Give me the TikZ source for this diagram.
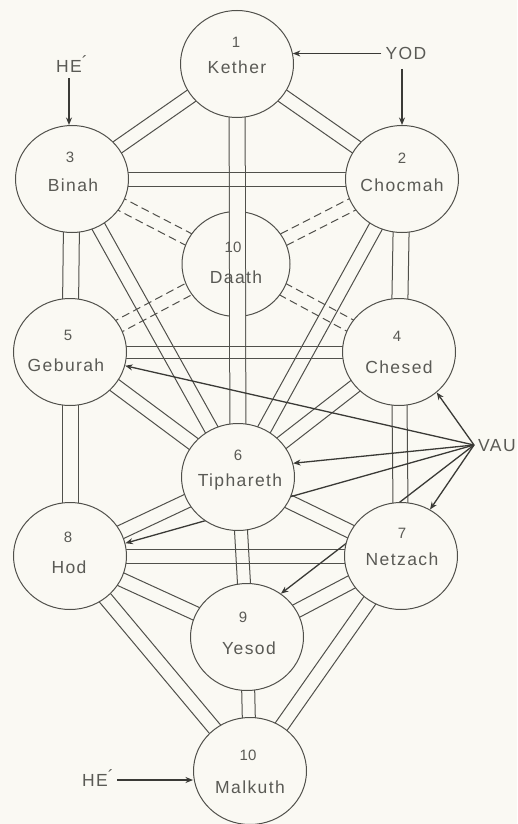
\documentclass[tikz,border=0pt]{standalone}
\usepackage{fontspec}
\setmainfont{Liberation Sans}
\newfontfamily\labfont[LetterSpace=8]{Liberation Sans}
\usetikzlibrary{calc,shapes.geometric,arrows.meta}
\definecolor{bg}{RGB}{250,249,243}
\definecolor{lc}{RGB}{80,80,75}
\definecolor{ac}{RGB}{58,58,54}
\definecolor{tc}{RGB}{90,90,85}
\pgfdeclarelayer{bgl}\pgfdeclarelayer{back}\pgfsetlayers{bgl,back,main}
\newcommand\dbl[3][7pt]{%
  \draw[pathline] ($(#2)!#1!90:(#3)$) -- ($(#3)!#1!-90:(#2)$);
  \draw[pathline] ($(#2)!#1!-90:(#3)$) -- ($(#3)!#1!90:(#2)$);}
\newcommand\dsh[3][6.5pt]{%
  \draw[dashline] ($(#2)!#1!90:(#3)$) -- ($(#3)!#1!-90:(#2)$);
  \draw[dashline] ($(#2)!#1!-90:(#3)$) -- ($(#3)!#1!90:(#2)$);}
\begin{document}
\begin{tikzpicture}[x=1pt,y=-1pt,
  sef/.style={ellipse,draw=lc,fill=bg,line width=1pt,minimum width=113pt,minimum height=107pt,inner sep=0pt},
  pathline/.style={draw=lc,line width=1pt},
  dashline/.style={draw=lc,line width=1pt,dash pattern=on 8pt off 4.5pt},
  arr/.style={draw=ac,line width=1.3pt,-{Stealth[length=7.5pt,width=6pt]}},
  num/.style={text=tc,font=\fontsize{15}{15}\selectfont,inner sep=0pt,text height=10.7pt,text depth=0pt},
  nm/.style={text=tc,font=\labfont\fontsize{17.5}{18}\selectfont,inner sep=0pt,text height=12.5pt,text depth=0pt}]
\begin{pgfonlayer}{bgl}
\fill[bg] (0,0) rectangle (517,824);
\end{pgfonlayer}
\useasboundingbox (0,0) rectangle (517,824);
% sephiroth
\node[sef] (K) at (237,64) {};
\node[sef] (Ch) at (402,179) {};
\node[sef] (B) at (72,179) {};
\node[sef] (Ce) at (399,352) {};
\node[sef] (G) at (70,352) {};
\node[sef] (T) at (238,477) {};
\node[sef] (N) at (401,556) {};
\node[sef] (H) at (70,556) {};
\node[sef] (Y) at (247,637) {};
\node[sef] (M) at (250,771) {};
\coordinate (Dc) at (236,264);
\coordinate (v) at (474,445);
\begin{pgfonlayer}{back}
\dsh{B}{Dc} \dsh{Ch}{Dc} \dsh{G}{Dc} \dsh{Ce}{Dc}
\node[sef,minimum width=108pt,minimum height=105pt] (D) at (Dc) {};
\draw[lc,line width=1pt,double=bg,double distance=15pt] (K.center) -- (T.center);
\dbl{K}{Ch} \dbl{K}{B} \dbl{B}{Ch} \dbl[8pt]{Ch}{Ce} \dbl[8pt]{B}{G}
\dbl{Ch}{T} \dbl{B}{T} \dbl[6pt]{G}{Ce} \dbl{Ce}{T} \dbl{G}{T}
\dbl[7.5pt]{Ce}{N} \dbl[8pt]{G}{H} \dbl{T}{N} \dbl{T}{H} \dbl[6.5pt]{T}{Y}
\dbl{H}{N} \dbl{N}{Y} \dbl{H}{Y} \dbl{N}{M} \dbl{H}{M} \dbl[6.5pt]{Y}{M}
\draw[arr] (v) -- (Ce.-47);
\draw[arr] (v) -- (G.-14);
\draw[arr] (v) -- (T.14);
\draw[arr] (v) -- (H.13);
\draw[arr] (v) -- (N.58);
\draw[arr] (v) -- (Y.52);
\end{pgfonlayer}
% texts
\node[num] (K1) at (236,42) {1}; \node[nm] (K2) at (237,67) {Kether};
\node[num] (Ch1) at (402,158) {2}; \node[nm] (Ch2) at (402,185) {Chocmah};
\node[num] (B1) at (70,157) {3}; \node[nm] (B2) at (73,185) {Binah};
\node[num] (D1) at (233,247) {10}; \node[nm] (D2) at (236,277) {Daath};
\node[num] (Ce1) at (397,336) {4}; \node[nm] (Ce2) at (399,367) {Chesed};
\node[num] (G1) at (68,335) {5}; \node[nm] (G2) at (66,365) {Geburah};
\node[num] (T1) at (238,455) {6}; \node[nm] (T2) at (240,480) {Tiphareth};
\node[num] (N1) at (402,533) {7}; \node[nm] (N2) at (402,559) {Netzach};
\node[num] (H1) at (68,537) {8}; \node[nm] (H2) at (69,567) {Hod};
\node[num] (Y1) at (243,617) {9}; \node[nm] (Y2) at (249,648) {Yesod};
\node[num] (M1) at (248,755) {10}; \node[nm] (M2) at (250,787) {Malkuth};
% letters
\node[nm] (yod) at (406,53.5) {YOD};
\node[nm] (he1) at (69,66) {HE\rlap{\raisebox{4pt}{´}}};
\node[nm] (he2) at (95,780) {HE\rlap{\raisebox{4pt}{´}}};
\node[nm,anchor=west] (vau) at (478,445) {VAU};
\draw[arr] (yod.west) ++(-4,0) -- (yod.west -| K.11);
\draw[arr] (yod.south -| Ch.north) ++(0,9) -- (Ch.north);
\draw[arr] (he1.south) ++(0,6) -- (he1.south |- B.north);
\draw[arr] (he2.east) ++(9,0) -- (he2.east -| M.west);
\end{tikzpicture}
\end{document}
